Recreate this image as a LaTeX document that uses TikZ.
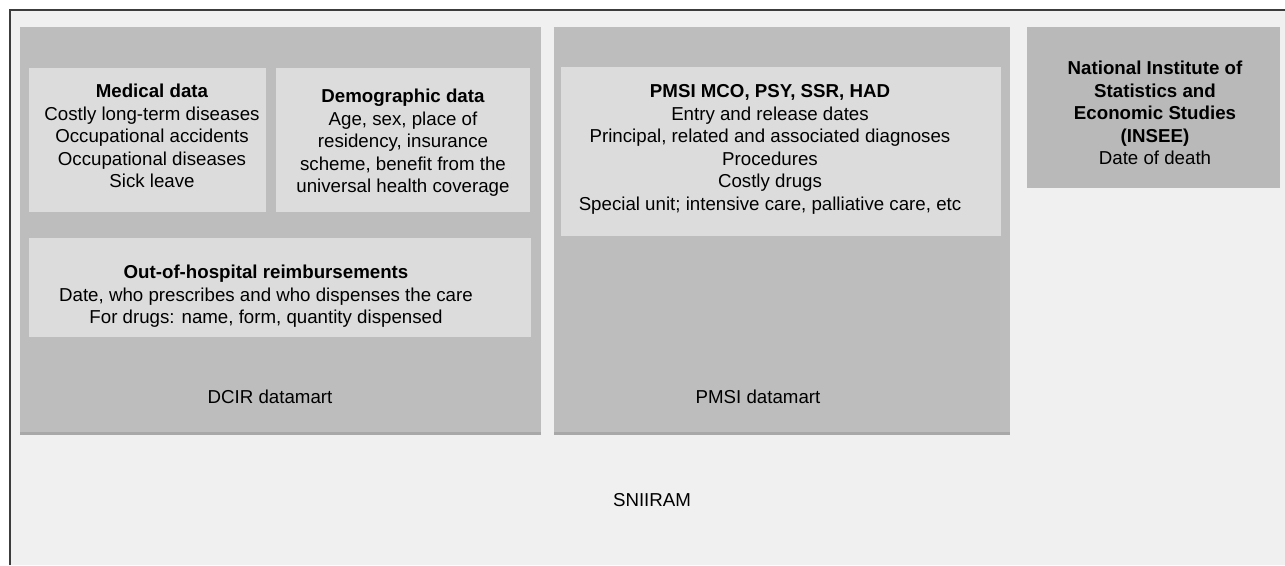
\documentclass[tikz,border=0pt]{standalone}
\usepackage{fontspec}
\setmainfont{Liberation Sans}
\begin{document}
\begin{tikzpicture}[x=1pt,y=-1pt,
  every node/.style={font=\fontsize{18.7}{22.5}\selectfont, align=center, inner sep=0pt},
  bigbox/.style={fill=biggray, draw=none, anchor=north west},
  innerbox/.style={fill=lightgray2, draw=none, anchor=north west},
  shadowbox/.style={fill=shadowgray, draw=none, anchor=north west},
  txt/.style={text=black}
]
\definecolor{outerbg}{HTML}{F0F0F0}
\definecolor{biggray}{HTML}{BDBDBD}
\definecolor{lightgray2}{HTML}{DCDCDC}
\definecolor{shadowgray}{HTML}{A8A8A8}
\definecolor{insee}{HTML}{B9B9B9}
\definecolor{frame}{HTML}{3C3C3C}
\useasboundingbox (0,0) rectangle (1285,565);
\fill[white] (0,0) rectangle (1285,565);
% outer SNIIRAM frame
\fill[outerbg] (10,10) rectangle (1285,565);
\draw[frame, line width=1.2pt] (10,565) -- (10,10) -- (1285,10);
% shadows
\node[shadowbox, minimum width=521pt, minimum height=408pt] (dcirsh) at (20,27) {};
\node[shadowbox, minimum width=456pt, minimum height=408pt] (pmsish) at (554,27) {};
% DCIR datamart
\node[bigbox, minimum width=521pt, minimum height=405pt] (dcir) at (20,27) {};
\node[innerbox, minimum width=237pt, minimum height=144pt] (med) at (29,68) {};
\node[innerbox, minimum width=254pt, minimum height=144pt] (demo) at (276,68) {};
\node[innerbox, minimum width=502pt, minimum height=99pt] (ooh) at (29,238) {};
\node[txt, anchor=center] (medt) at (152,136) {\textbf{Medical data}\\Costly long-term diseases\\Occupational accidents\\Occupational diseases\\Sick leave};
\node[txt, anchor=center] (demot) at (403,143) {\textbf{Demographic data}\\Age, sex, place of\\residency, insurance\\scheme, benefit from the\\universal health coverage};
\node[txt, anchor=center] (ooht) at (266,296.5) {\textbf{Out-of-hospital reimbursements}\\Date, who prescribes and who dispenses the care\\For drugs: name, form, quantity dispensed};
\node[txt] (dcirl) at (270,397) {DCIR datamart};
% PMSI datamart
\node[bigbox, minimum width=456pt, minimum height=405pt] (pmsi) at (554,27) {};
\node[innerbox, minimum width=440pt, minimum height=169pt] (pmsiin) at (561,67) {};
\node[txt, anchor=center] (pmsit) at (770,149.5) {\textbf{PMSI MCO, PSY, SSR, HAD}\\Entry and release dates\\Principal, related and associated diagnoses\\Procedures\\Costly drugs\\Special unit; intensive care, palliative care, etc};
\node[txt] (pmsil) at (758,397) {PMSI datamart};
% INSEE
\node[fill=insee, draw=none, anchor=north west, minimum width=253pt, minimum height=161pt] (ins) at (1027,27) {};
\node[txt, anchor=center] (inst) at (1155,113) {\textbf{National Institute of}\\\textbf{Statistics and}\\\textbf{Economic Studies}\\\textbf{(INSEE)}\\Date of death};
% SNIIRAM
\node[txt] (sn) at (652,500) {SNIIRAM};
\end{tikzpicture}
\end{document}
